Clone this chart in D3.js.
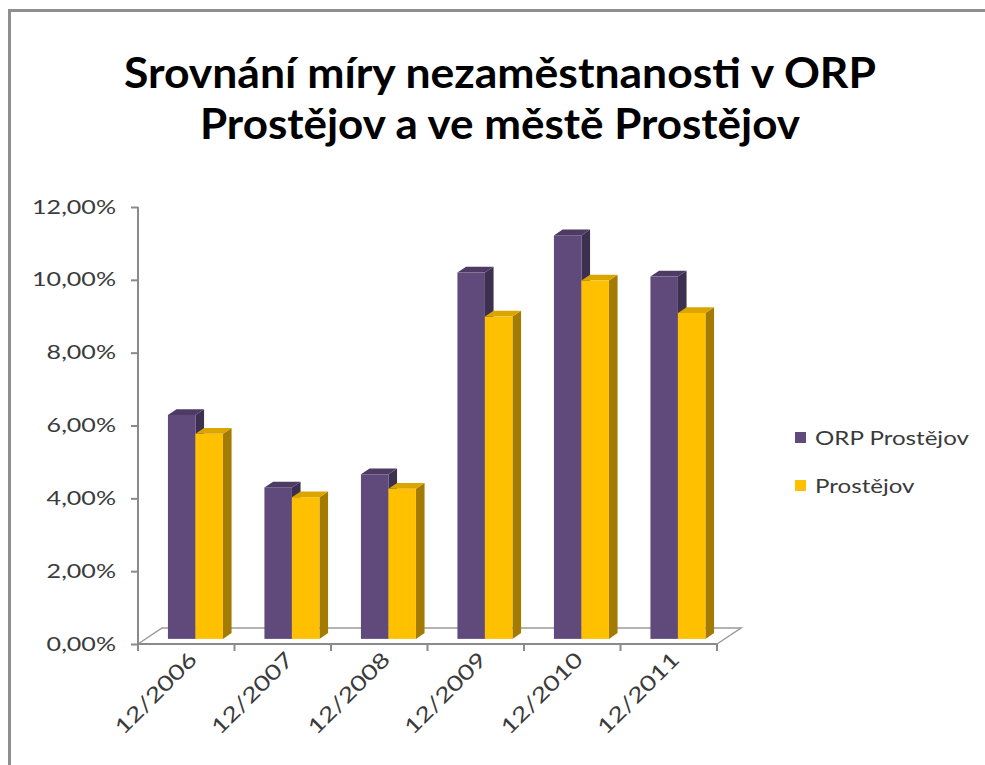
<!DOCTYPE html>
<html>
<head>
<meta charset="utf-8">
<script src="https://cdn.jsdelivr.net/npm/d3@7"></script>
<style>
  html, body { margin: 0; padding: 0; background: #fff; }
  svg { display: block; }
</style>
</head>
<body>
<svg id="chart" width="985" height="765"></svg>
<script>
// Unemployment rate, end of year (share)
const categories = ["12/2006", "12/2007", "12/2008", "12/2009", "12/2010", "12/2011"];
const seriesNames = ["ORP Prostějov", "Prostějov"];
const orpValues = [0.0615, 0.0416, 0.0452, 0.1006, 0.1108, 0.0995];
const cityValues = [0.0563, 0.0389, 0.0412, 0.0885, 0.0984, 0.0895];
const yTicks = [0, 0.02, 0.04, 0.06, 0.08, 0.10, 0.12];
const titleLines = ["Srovnání míry nezaměstnanosti v ORP", "Prostějov a ve městě Prostějov"];

const palette = {
  "ORP Prostějov": { front: "#604a7b", top: "#4d3b64", side: "#3d2f50" },
  "Prostějov":     { front: "#ffc000", top: "#dba500", side: "#a37b00" }
};

const valuesBySeries = { "ORP Prostějov": orpValues, "Prostějov": cityValues };

const svg = d3.select("#chart");
const font = "Lato, 'Open Sans', 'DejaVu Sans', sans-serif";
const axisColor = "#8a8a8a";
const labelColor = "#3a3a3a";

// chart frame (top and left edges)
svg.append("line").attr("x1", 9).attr("x2", 985).attr("y1", 10.5).attr("y2", 10.5)
  .attr("stroke", "#8f8f8f").attr("stroke-width", 3);
svg.append("line").attr("x1", 9.5).attr("x2", 9.5).attr("y1", 9).attr("y2", 765)
  .attr("stroke", "#8f8f8f").attr("stroke-width", 3);

// title, each line fitted to its width
const titleWidths = [752, 600];
const title = svg.append("g")
  .attr("font-family", font)
  .attr("font-weight", "bold")
  .attr("font-size", 42)
  .attr("fill", "#000");
title.selectAll("text").data(titleLines).join("text")
  .attr("text-anchor", "middle")
  .attr("x", 500)
  .attr("y", (d, i) => 88 + i * 51)
  .attr("textLength", (d, i) => titleWidths[i])
  .attr("lengthAdjust", "spacingAndGlyphs")
  .text(d => d);

// plot geometry
const plotLeft = 138, plotRight = 717, baseY = 644, topY = 207;
const floorDepth = [24, -16];     // oblique offset from front to back of the floor
const barStart = 0.32, barDepth = 0.36;

const x = d3.scaleBand().domain(categories).range([plotLeft, plotRight]);
const xInner = d3.scaleBand().domain(seriesNames).range([0, 55]);
const y = d3.scaleLinear().domain([0, 0.12]).range([baseY, topY]);

// floor
const g = svg.append("g");
const fd = floorDepth;
g.append("path")
  .attr("d", `M${plotLeft},${baseY} L${plotLeft + fd[0]},${baseY + fd[1]} L${plotRight + fd[0]},${baseY + fd[1]} L${plotRight},${baseY}`)
  .attr("fill", "none").attr("stroke", "#9a9a9a").attr("stroke-width", 1.5);

// y axis
const yAxis = d3.axisLeft(y).tickValues(yTicks).tickSize(7)
  .tickFormat(d => d3.format(".2f")(d * 100).replace(".", ",") + "%");
const ya = svg.append("g").attr("transform", `translate(${plotLeft},0)`).call(yAxis);
ya.select(".domain").attr("d", `M0,${topY}V${baseY + 6}`)
  .attr("stroke", axisColor).attr("stroke-width", 2).attr("fill", "none");
ya.selectAll(".tick line").attr("stroke", axisColor).attr("stroke-width", 2);
ya.selectAll(".tick text")
  .attr("x", 0)
  .attr("transform", "translate(-22,0) scale(1.32,1)")
  .attr("font-family", font).attr("font-size", 19).attr("fill", labelColor);

// x axis along the front floor edge
const xa = svg.append("g").attr("transform", `translate(0,${baseY})`)
  .call(d3.axisBottom(x).tickSize(0).tickFormat(d => d));
xa.select(".domain").attr("d", `M${plotLeft},0H${plotRight}`)
  .attr("stroke", axisColor).attr("stroke-width", 2);
xa.selectAll(".tick text")
  .attr("font-family", font).attr("font-size", 21).attr("fill", labelColor)
  .attr("text-anchor", "end")
  .attr("y", 0).attr("dy", null)
  .attr("transform", "translate(12,17) rotate(-45) scale(1.28,1)");
// category boundary ticks
xa.selectAll(".bound").data(d3.range(categories.length + 1)).join("line")
  .attr("class", "bound")
  .attr("x1", i => plotLeft + i * x.bandwidth())
  .attr("x2", i => plotLeft + i * x.bandwidth())
  .attr("y1", 0).attr("y2", 7)
  .attr("stroke", axisColor).attr("stroke-width", 2);

// 3D columns
const ox = fd[0] * barStart, oy = fd[1] * barStart;
const dx = fd[0] * barDepth, dy = fd[1] * barDepth;
const bars = [];
categories.forEach((c, ci) => {
  seriesNames.forEach(s => bars.push({ cat: c, series: s, value: valuesBySeries[s][ci] }));
});
const barG = svg.append("g");
const bw = xInner.bandwidth();
bars.forEach(b => {
  const x0 = x(b.cat) + (x.bandwidth() - 55) / 2 + xInner(b.series) + ox + 1.5;
  const x1 = x0 + bw;
  const yb = baseY + oy;
  const yt = y(b.value) + oy;
  const col = palette[b.series];
  const grp = barG.append("g");
  grp.append("path")
    .attr("d", `M${x1},${yb} L${x1 + dx},${yb + dy} L${x1 + dx},${yt + dy} L${x1},${yt} Z`)
    .attr("fill", col.side);
  grp.append("path")
    .attr("d", `M${x0},${yt} L${x0 + dx},${yt + dy} L${x1 + dx},${yt + dy} L${x1},${yt} Z`)
    .attr("fill", col.top);
  grp.append("rect")
    .attr("x", x0).attr("y", yt).attr("width", bw).attr("height", yb - yt)
    .attr("fill", col.front);
});

// legend
const legend = svg.append("g").attr("transform", "translate(795,432)");
const li = legend.selectAll("g").data(seriesNames).join("g")
  .attr("transform", (d, i) => `translate(0,${i * 48})`);
li.append("rect").attr("width", 11).attr("height", 11)
  .attr("fill", d => palette[d].front);
li.append("text").attr("x", 0).attr("y", 0)
  .attr("transform", "translate(20,13) scale(1.27,1)")
  .attr("font-family", font).attr("font-size", 19).attr("fill", labelColor)
  .text(d => d);
</script>
</body>
</html>
